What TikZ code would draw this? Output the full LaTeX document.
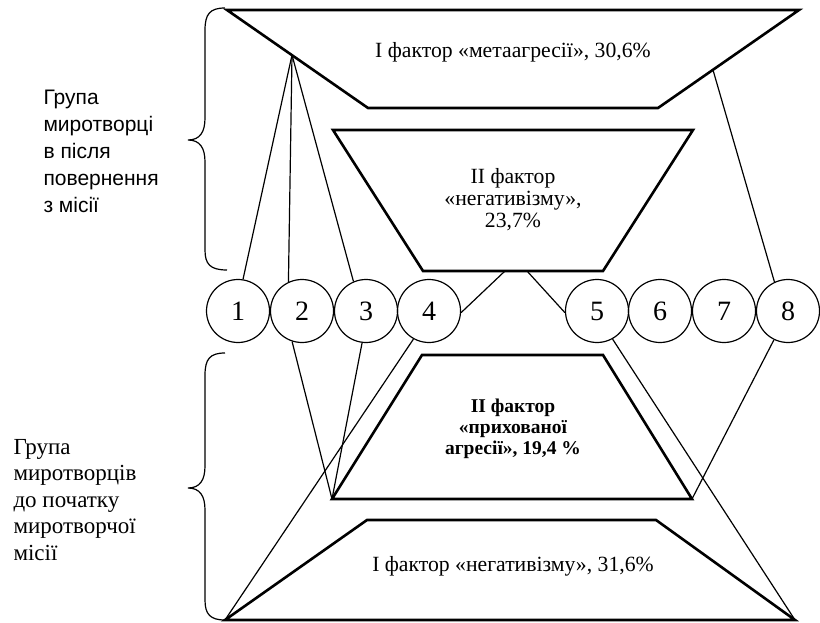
\documentclass[tikz,border=0pt]{standalone}
\usepackage{fontspec}
\setmainfont{Liberation Serif}
\newfontfamily\labelsans{Liberation Sans}
\usepackage{tikz}

\begin{document}
\begin{tikzpicture}[x=1pt, y=-1pt]
        % Define styles for shapes
        \tikzstyle{num} = [draw, circle, line width=1.2pt, minimum size=63pt, inner sep=0pt, font=\fontsize{28}{28}\selectfont]
        \tikzstyle{trap} = [draw, line width=2.6pt, line join=miter]
        \tikzstyle{conn} = [line width=1.2pt]
        \tikzstyle{factor} = [align=center, font=\fontsize{21.7}{22}\selectfont]
        \useasboundingbox (0,0) rectangle (820,623);

        % Corners of the trapezoids
        \coordinate (t1a) at (227,10);  \coordinate (t1b) at (799,10);
        \coordinate (t1c) at (658,108); \coordinate (t1d) at (368,108);
        \coordinate (t2a) at (333,130); \coordinate (t2b) at (693,130);
        \coordinate (t2c) at (603,271); \coordinate (t2d) at (423,271);
        \coordinate (t3a) at (422,355); \coordinate (t3b) at (603,355);
        \coordinate (t3c) at (692,499); \coordinate (t3d) at (332,499);
        \coordinate (t4a) at (367,520); \coordinate (t4b) at (656,520);
        \coordinate (t4c) at (795,620); \coordinate (t4d) at (225,620);
        \coordinate (j1) at (292,55);   \coordinate (j8) at (713,70);
        \coordinate (t2l) at (505,271); \coordinate (t2r) at (527,271);

        % Draw shapes
        \draw[trap] (t1a) -- (t1b) -- (t1c) -- (t1d) -- cycle;
        \draw[trap] (t2a) -- (t2b) -- (t2c) -- (t2d) -- cycle;
        \draw[trap] (t3a) -- (t3b) -- (t3c) -- (t3d) -- cycle;
        \draw[trap] (t4a) -- (t4b) -- (t4c) -- (t4d) -- cycle;

        \node[factor] (f1) at (513,52) {І фактор «метаагресії», 30,6\%};
        \node[factor] (f2) at (513,200) {ІІ фактор\\«негативізму»,\\23,7\%};
        \node[factor, font=\bfseries\fontsize{19.5}{21}\selectfont] (f3) at (513,429) {ІІ фактор\\«прихованої\\агресії», 19,4 \%};
        \node[factor] (f4) at (513,566) {І фактор «негативізму», 31,6\%};

        \node[num] (c1) at (238,311) {1};
        \node[num] (c2) at (302,311) {2};
        \node[num] (c3) at (366,311) {3};
        \node[num] (c4) at (429,311) {4};
        \node[num] (c5) at (597,311) {5};
        \node[num] (c6) at (660,311) {6};
        \node[num] (c7) at (724,311) {7};
        \node[num] (c8) at (788,311) {8};

        % Braces and group labels
        \draw[conn] (225,8) .. controls (210,8) and (205,14) .. (205,30) -- (205,118)
            .. controls (205,132) and (200,140) .. (188,140)
            .. controls (200,140) and (205,148) .. (205,162) -- (205,250)
            .. controls (205,264) and (210,270) .. (227,270);
        \draw[conn] (225,353) .. controls (210,353) and (205,359) .. (205,375) -- (205,466)
            .. controls (205,480) and (200,488) .. (188,488)
            .. controls (200,488) and (205,496) .. (205,510) -- (205,600)
            .. controls (205,614) and (210,620) .. (225,620);
        \node[anchor=west, align=left, font=\labelsans\fontsize{21}{27}\selectfont] (after) at (40,151)
            {Група\\миротворці\\в після\\повернення\\з місії};
        \node[anchor=west, align=left, font=\fontsize{23}{26.5}\selectfont] (before) at (10,500)
            {Група\\миротворців\\до початку\\миротворчої\\місії};

        % Draw connectors
        \draw[conn] (j1) -- (c1.81);
        \draw[conn] (j1) -- (c2.115);
        \draw[conn] (j1) -- (c3.113);
        \draw[conn] (j8) -- (c8.115);
        \draw[conn] (t2l) -- (c4.-3);
        \draw[conn] (t2r) -- (c5.183);
        \draw[conn] (c2.252) -- (t3d);
        \draw[conn] (c3.263) -- (t3d);
        \draw[conn] (c4.241) -- (t4d);
        \draw[conn] (c5.299) -- (t4c);
        \draw[conn] (c8.244) -- (t3c);
    \end{tikzpicture}
\end{document}
